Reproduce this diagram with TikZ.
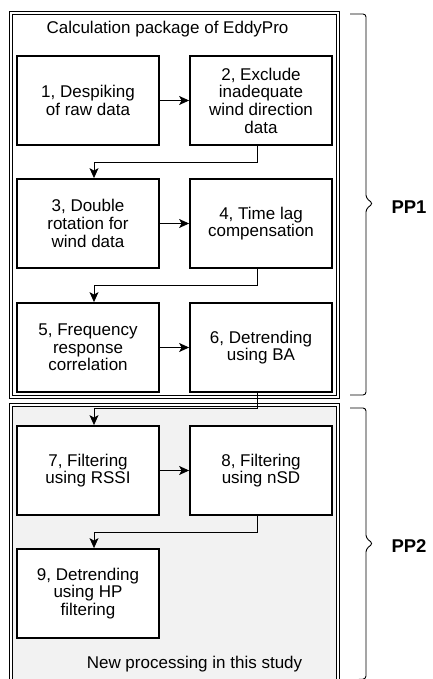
\documentclass[tikz,border=0pt]{standalone}
\usepackage{fontspec}
\setmainfont{Liberation Sans}
\usetikzlibrary{arrows.meta,calc}
\begin{document}
\begin{tikzpicture}[x=1pt,y=-1pt,
  every node/.style={font=\fontsize{17}{17.7}\selectfont, align=center},
  stepbox/.style={draw, line width=1.8pt, fill=white, minimum width=142pt, minimum height=89pt, inner sep=1pt},
  container/.style={draw, double, line width=1.3pt, double distance=1.5pt},
  conn/.style={line width=0.9pt, -{Stealth[length=10pt,width=9pt,inset=2.5pt]}},
  bracestyle/.style={line width=0.9pt, rounded corners=3pt},
  pplabel/.style={font=\fontsize{18.5}{20}\selectfont\bfseries}
]
\useasboundingbox (0,0) rectangle (433,679);
% containers
\node[container, fill=black!5, minimum width=327pt, minimum height=300pt, inner sep=0pt] (pp2) at (174.5,555) {};
\node[container, minimum width=327pt, minimum height=384pt, inner sep=0pt] (pp1) at (174.5,205) {};
% titles
\node (title) at (167.5,29) {Calculation package of EddyPro};
\node (newproc) at (194.5,664) {New processing in this study};
% steps
\node[stepbox] (b1) at (88,100.5) {1, Despiking\\of raw data};
\node[stepbox] (b2) at (261,100.5) {2, Exclude\\inadequate\\wind direction\\data};
\node[stepbox] (b3) at (88,223.5) {3, Double\\rotation for\\wind data};
\node[stepbox] (b4) at (261,223.5) {4, Time lag\\compensation};
\node[stepbox] (b5) at (88,347.5) {5, Frequency\\response\\correlation};
\node[stepbox] (b6) at (261,347.5) {6, Detrending\\using BA};
\node[stepbox] (b7) at (88,470.5) {7, Filtering\\using RSSI};
\node[stepbox] (b8) at (261,470.5) {8, Filtering\\using nSD};
\node[stepbox] (b9) at (88,593.5) {9, Detrending\\using HP\\filtering};
% connectors
\draw[conn] (b1) -- (b2);
\draw[conn] (b3) -- (b4);
\draw[conn] (b5) -- (b6);
\draw[conn] (b7) -- (b8);
\draw[conn] ([xshift=-4pt]b2.south) -- ++(0,17) -| ([xshift=6pt]b3.north);
\draw[conn] ([xshift=-4pt]b4.south) -- ++(0,17) -| ([xshift=6pt]b5.north);
\draw[conn] ([xshift=-4pt]b6.south) -- ++(0,16) -| ([xshift=6pt]b7.north);
\draw[conn] ([xshift=-4pt]b8.south) -- ++(0,17) -| ([xshift=6pt]b9.north);
% braces
\coordinate (p1top) at (350,14);
\coordinate (p1bot) at (350,395);
\coordinate (p2top) at (350,408);
\coordinate (p2bot) at (350,680);
\draw[bracestyle] (p1top) -- (366,14) -- (366,198) -- (373,203.5) -- (366,209) -- (366,395) -- (p1bot);
\draw[bracestyle] (p2top) -- (366,408) -- (366,538) -- (373,543.5) -- (366,549) -- (366,679) -- (p2bot);
\node[pplabel] (pp1lab) at (409,207) {PP1};
\node[pplabel] (pp2lab) at (409,546) {PP2};
\end{tikzpicture}
\end{document}
